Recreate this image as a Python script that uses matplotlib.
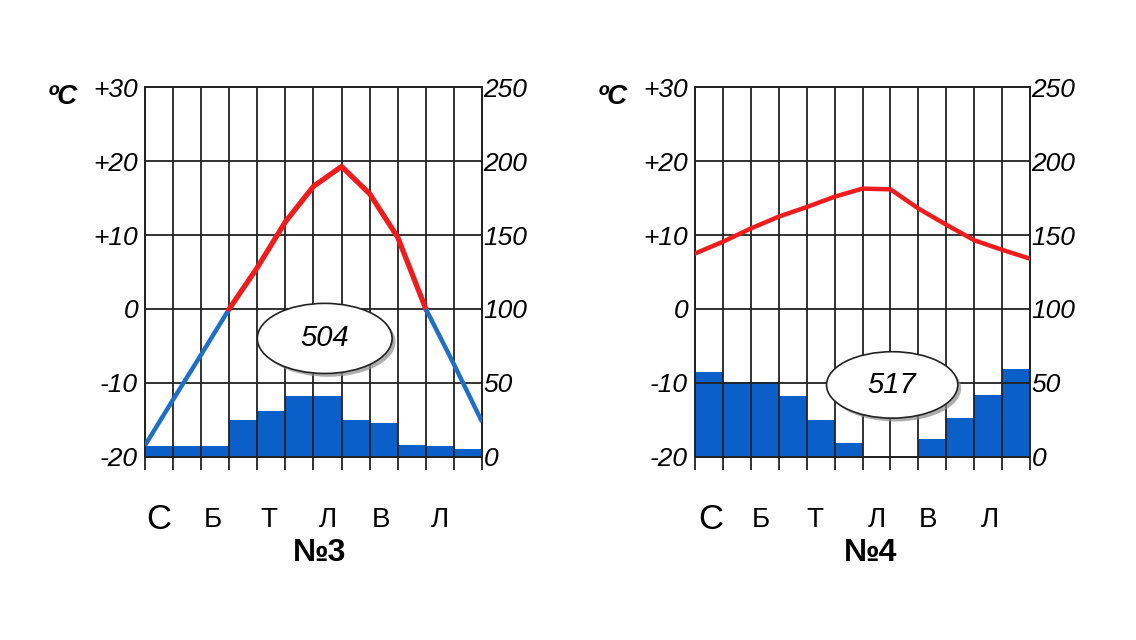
import matplotlib.pyplot as plt
import matplotlib.patches as patches

# Temperature (°C) read at each month boundary, 13 points per chart
temp_3 = [-18.5, -12.3, -6.2, 0, 5.6, 11.8, 16.6, 19.3, 15.6, 9.7, 0, -7.5, -15.3]
temp_4 = [7.5, 9.1, 10.9, 12.5, 13.8, 15.2, 16.3, 16.2, 13.6, 11.4, 9.3, 8.0, 6.8]

# Monthly precipitation (mm), 12 bars per chart
prec_3 = [7, 7, 7, 25, 31, 41, 41, 25, 23, 8, 7, 5]
prec_4 = [57, 50.5, 50.5, 41, 25, 9, 0, 0, 12, 26, 41.5, 59]

totals = ["504", "517"]
titles = ["№3", "№4"]
month_labels = ["С", "Б", "Т", "Л", "В", "Л"]
temp_ticks = [-20, -10, 0, 10, 20, 30]
temp_tick_labels = ["-20", "-10", "0", "+10", "+20", "+30"]
prec_ticks = [0, 50, 100, 150, 200, 250]

RED = "#ee1c1c"
BLUE_LINE = "#1f6fc6"
BLUE_BAR = "#0a5fc8"
tick_font = dict(family=["Liberation Sans", "DejaVu Sans"], style="italic", size=19)

fig = plt.figure(figsize=(11.36, 6.4), dpi=100)
fig.patch.set_facecolor("white")

panels = [
    dict(rect=[0.1276, 0.2867, 0.2967, 0.5766], temp=temp_3, prec=prec_3,
         total=totals[0], title=titles[0], two_tone=True,
         ell=(6.4, -4.0, 4.8, 9.5), label_x=[0.5, 2.4, 4.4, 6.5, 8.4, 10.5], title_x=6.23),
    dict(rect=[0.6118, 0.2867, 0.2950, 0.5766], temp=temp_4, prec=prec_4,
         total=totals[1], title=titles[1], two_tone=False,
         ell=(7.06, -10.3, 4.7, 9.0), label_x=[0.55, 2.35, 4.3, 6.5, 8.35, 10.55], title_x=6.27),
]

for p in panels:
    ax = fig.add_axes(p["rect"])
    ax2 = ax.twinx()
    # bars go behind the grid and the temperature curve
    ax.set_zorder(ax2.get_zorder() + 1)
    ax.patch.set_visible(False)

    months = list(range(12))
    ax2.bar(months, p["prec"], width=1.0, align="edge", color=BLUE_BAR, zorder=1)
    ax2.set_ylim(0, 250)
    ax2.set_yticks(prec_ticks)
    ax2.set_yticklabels([str(v) for v in prec_ticks], **tick_font)
    ax2.tick_params(axis="y", length=0, pad=1)

    ax.set_xlim(0, 12)
    ax.set_ylim(-20, 30)
    ax.set_yticks(temp_ticks)
    ax.set_yticklabels(temp_tick_labels, **tick_font)
    ax.tick_params(axis="y", length=0, pad=5)
    ax.set_xticks(range(13))
    ax.set_xticklabels([])
    ax.tick_params(axis="x", direction="out", length=9, width=1.3, color="#222222")
    ax.grid(True, color="#222222", linewidth=1.3, zorder=2)
    for a in (ax, ax2):
        for s in a.spines.values():
            s.set_color("#222222")
            s.set_linewidth(1.3)

    xs = list(range(13))
    t = p["temp"]
    if p["two_tone"]:
        ax.plot(xs[:4], t[:4], color=BLUE_LINE, lw=3.2, solid_capstyle="butt", zorder=4)
        ax.plot(xs[3:11], t[3:11], color=RED, lw=3.8, solid_joinstyle="round", zorder=4)
        ax.plot(xs[10:], t[10:], color=BLUE_LINE, lw=3.2, solid_capstyle="butt", zorder=4)
    else:
        ax.plot(xs, t, color=RED, lw=3.2, solid_joinstyle="round", zorder=4)

    # total precipitation in an oval with a shadow
    cx, cy, w, h = p["ell"]
    shadow = patches.Ellipse((cx + 0.12, cy - 0.45), w, h, facecolor="#8a8a8a",
                             edgecolor="none", alpha=0.7, zorder=5)
    ell = patches.Ellipse((cx, cy), w, h, facecolor="white", edgecolor="#222222",
                          linewidth=1.2, zorder=6)
    ax.add_patch(shadow)
    ax.add_patch(ell)
    ax.text(cx, cy, p["total"], ha="center", va="center", zorder=7,
            family=["Liberation Sans", "DejaVu Sans"], style="italic", size=21)

    ax.text(-0.29, 0.975, "ºC", transform=ax.transAxes, ha="left", va="center",
            family=["Liberation Sans", "DejaVu Sans"], style="italic", weight="bold", size=20)

    tr = ax.get_xaxis_transform()
    for i, (lx, lab) in enumerate(zip(p["label_x"], month_labels)):
        size = 25 if i == 0 else 20
        ax.text(lx, -0.172, lab, transform=tr, ha="center", va="center",
                size=size, family=["Liberation Sans Narrow", "Liberation Sans"],
                clip_on=False)
    ax.text(p["title_x"], -0.262, p["title"], transform=tr, ha="center", va="center",
            size=23, weight="bold", family=["Liberation Sans Narrow", "Liberation Sans"],
            clip_on=False)

fig.savefig("out.png", dpi=100, facecolor="white")
